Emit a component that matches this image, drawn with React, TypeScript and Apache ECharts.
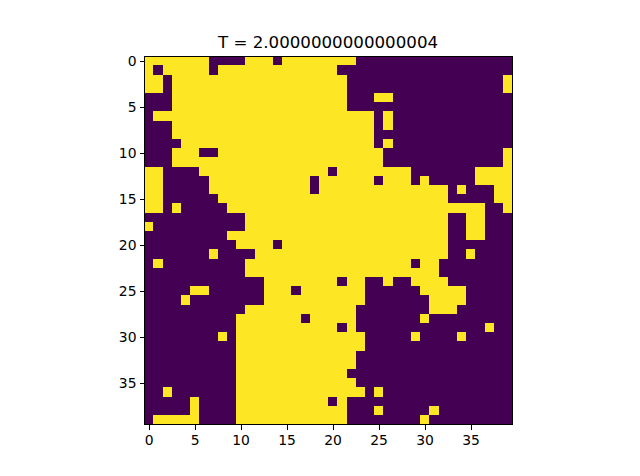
import React, { useEffect, useRef } from "react";
import * as echarts from "echarts";

const titleText = "T = 2.0000000000000004";
const size = 40;
const colors = ["#440154", "#fde725"];

// Purple (spin 0) cells of each row, as inclusive [from, to] column spans; all others are yellow.
const purpleSpans: number[][][] = [
  [[7, 10], [14, 14], [23, 39]],
  [[1, 1], [7, 7], [21, 39]],
  [[2, 2], [22, 38]],
  [[2, 2], [22, 38]],
  [[0, 2], [22, 24], [27, 39]],
  [[0, 2], [22, 39]],
  [[0, 0], [25, 25], [27, 39]],
  [[0, 2], [25, 25], [27, 39]],
  [[0, 2], [25, 39]],
  [[0, 3], [25, 25], [27, 39]],
  [[0, 2], [6, 7], [26, 38]],
  [[0, 2], [26, 38]],
  [[2, 5], [20, 20], [29, 35]],
  [[2, 6], [18, 18], [25, 25], [29, 29], [31, 35]],
  [[2, 6], [18, 18], [33, 33], [35, 37]],
  [[2, 7], [33, 37]],
  [[2, 2], [4, 8], [37, 38]],
  [[0, 10], [33, 34], [37, 39]],
  [[1, 10], [33, 34], [37, 39]],
  [[0, 8], [33, 34], [37, 39]],
  [[0, 9], [14, 14], [33, 39]],
  [[0, 6], [8, 11], [33, 34], [36, 39]],
  [[0, 0], [2, 10], [29, 29], [32, 39]],
  [[0, 10], [32, 39]],
  [[0, 12], [21, 21], [24, 25], [27, 28], [33, 39]],
  [[0, 4], [7, 12], [16, 16], [24, 29], [35, 39]],
  [[0, 3], [5, 12], [24, 30], [35, 39]],
  [[0, 10], [23, 30], [34, 39]],
  [[0, 9], [17, 17], [23, 29], [31, 39]],
  [[0, 9], [21, 21], [23, 36], [38, 39]],
  [[0, 7], [9, 9], [24, 28], [30, 33], [35, 39]],
  [[0, 9], [24, 39]],
  [[0, 9], [23, 39]],
  [[0, 9], [23, 39]],
  [[0, 9], [22, 39]],
  [[0, 9], [23, 39]],
  [[0, 1], [3, 9], [24, 24], [26, 39]],
  [[0, 4], [6, 9], [20, 20], [22, 39]],
  [[0, 4], [6, 9], [22, 24], [26, 30], [32, 39]],
  [[0, 0], [6, 9], [22, 29], [31, 39]],
];

const categories = Array.from({ length: size }, (_, i) => String(i));

function cellValue(row: number, col: number): number {
  return purpleSpans[row].some(([a, b]) => col >= a && col <= b) ? 0 : 1;
}

const cells: number[][] = [];
for (let r = 0; r < size; r++) {
  for (let c = 0; c < size; c++) {
    cells.push([c, r, cellValue(r, c)]);
  }
}

const font = "DejaVu Sans";
const left = 144.5;
const top = 56.5;
const side = 368;

function axisCommon() {
  return {
    type: "category" as const,
    data: categories,
    axisLine: { show: false },
    splitLine: { show: false },
    axisTick: {
      show: true,
      interval: 4,
      alignWithLabel: true,
      length: 5,
      lineStyle: { color: "#000", width: 1 },
    },
    axisLabel: {
      show: true,
      interval: 4,
      margin: 8,
      color: "#000",
      fontFamily: font,
      fontSize: 13.9,
    },
  };
}

export default function App() {
  const ref = useRef<HTMLDivElement>(null);
  useEffect(() => {
    document.body.style.margin = "0";
    const chart = echarts.init(ref.current!, undefined, { renderer: "svg" });
    chart.setOption({
      animation: false,
      backgroundColor: "#fff",
      title: {
        text: titleText,
        left: 328,
        top: 33.5,
        textAlign: "center",
        padding: 0,
        textStyle: { fontFamily: font, fontSize: 16.67, fontWeight: "normal", color: "#000" },
      },
      grid: { left, top, width: side, height: side },
      xAxis: axisCommon(),
      yAxis: { ...axisCommon(), inverse: true },
      visualMap: {
        show: false,
        type: "piecewise",
        dimension: 2,
        pieces: [
          { value: 0, color: colors[0] },
          { value: 1, color: colors[1] },
        ],
      },
      series: [
        {
          type: "heatmap",
          data: cells,
          itemStyle: { borderWidth: 0 },
          emphasis: { disabled: true },
        },
      ],
      graphic: [
        {
          type: "rect",
          z: 100,
          shape: { x: left, y: top, width: side, height: side },
          style: { fill: "none", stroke: "#000", lineWidth: 1.1 },
        },
      ],
    });
    return () => chart.dispose();
  }, []);
  return (
    <>
      <style>{"svg path { shape-rendering: crispEdges; }"}</style>
      <div ref={ref} style={{ width: 640, height: 476 }} />
    </>
  );
}
